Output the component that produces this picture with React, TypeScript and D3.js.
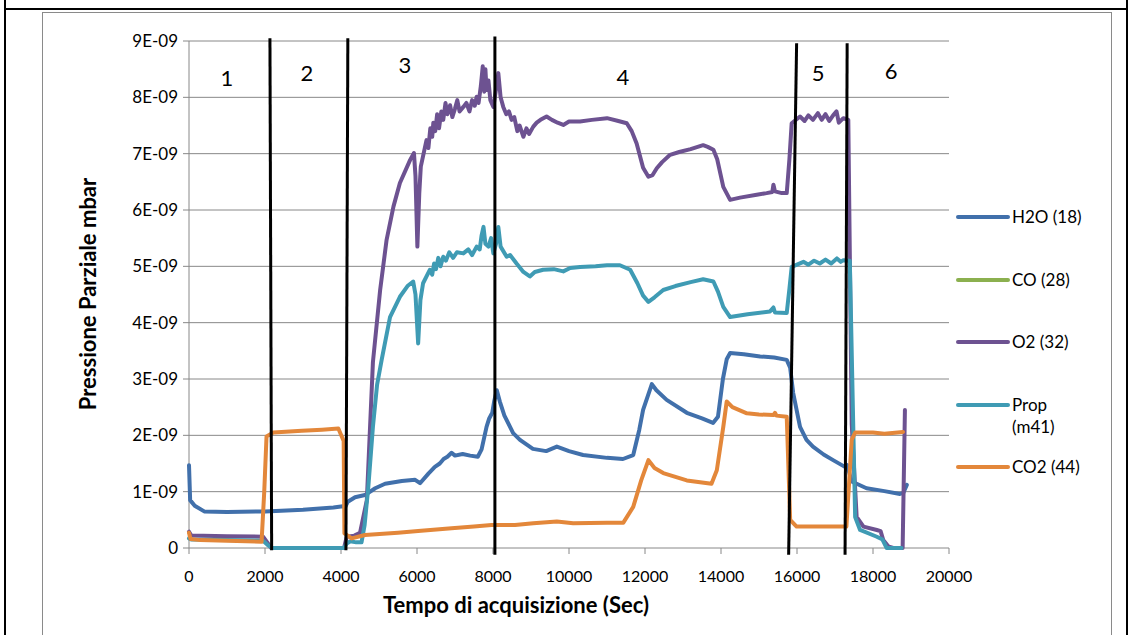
import React from "react";
import * as d3 from "d3";

// values in units of 1E-09 mbar, time in seconds
const h2o: [number, number][] = [
  [0, 1.47], [30, 0.85], [150, 0.75], [400, 0.65], [1000, 0.64], [2000, 0.65], [3000, 0.68], [3800, 0.72],
  [4050, 0.74], [4100, 0.72], [4180, 0.82], [4370, 0.9], [4630, 0.94], [4900, 1.06], [5160, 1.14], [5600, 1.19],
  [5950, 1.21], [6080, 1.15], [6300, 1.32], [6470, 1.44], [6600, 1.5], [6700, 1.58], [6800, 1.62], [6910, 1.69],
  [7000, 1.64], [7200, 1.67], [7400, 1.64], [7600, 1.62], [7700, 1.75], [7830, 2.15], [7900, 2.3], [7980, 2.4],
  [8030, 2.6], [8100, 2.8], [8180, 2.6], [8300, 2.35], [8530, 2.04], [8710, 1.92], [9050, 1.76], [9400, 1.72],
  [9680, 1.8], [10000, 1.72], [10370, 1.65], [11000, 1.6], [11420, 1.58], [11690, 1.65], [11850, 2.1], [11950, 2.45],
  [12180, 2.91], [12300, 2.8], [12570, 2.63], [13100, 2.4], [13500, 2.3], [13790, 2.22], [13920, 2.33], [14050, 3.0],
  [14150, 3.35], [14240, 3.46], [14600, 3.44], [15030, 3.4], [15400, 3.38], [15730, 3.34], [15820, 3.2], [15900, 2.75],
  [16080, 2.15], [16250, 1.92], [16420, 1.8], [16700, 1.66], [16950, 1.56], [17260, 1.44], [17320, 1.47], [17440, 1.18],
  [17830, 1.06], [18300, 1.01], [18710, 0.96], [18800, 0.98], [18890, 1.12],
];

// CO (28) is not visible anywhere in the plot
const co: [number, number][] = [];

const o2: [number, number][] = [
  [0, 0.29], [60, 0.22], [1000, 0.21], [1950, 0.2], [2060, 0.1], [2160, 0], [4080, 0], [4150, 0.2], [4350, 0.22],
  [4500, 0.27], [4680, 0.85], [4840, 3.3], [5030, 4.58], [5200, 5.47], [5380, 6.06], [5550, 6.48], [5820, 6.89],
  [5920, 7.01], [5960, 6.6], [6010, 5.35], [6060, 6.3], [6100, 6.77], [6250, 7.24], [6300, 7.1], [6350, 7.45],
  [6400, 7.3], [6430, 7.55], [6480, 7.4], [6530, 7.7], [6580, 7.45], [6640, 7.75], [6690, 7.6], [6750, 7.9],
  [6800, 7.7], [6870, 7.86], [6930, 7.65], [7000, 7.8], [7060, 7.95], [7120, 7.75], [7220, 7.83], [7300, 7.9],
  [7380, 7.75], [7450, 7.95], [7520, 7.85], [7570, 8.01], [7620, 7.9], [7680, 8.2], [7730, 8.55], [7770, 8.1],
  [7800, 8.5], [7830, 8.13], [7880, 8.3], [7930, 7.95], [8010, 7.83], [8070, 8.1], [8140, 8.43], [8200, 8.0],
  [8270, 7.83], [8350, 7.7], [8420, 7.75], [8490, 7.6], [8560, 7.65], [8640, 7.4], [8700, 7.5], [8800, 7.3],
  [8880, 7.45], [8950, 7.35], [9060, 7.48], [9150, 7.55], [9250, 7.6], [9410, 7.66], [9550, 7.6], [9700, 7.55],
  [9850, 7.51], [10000, 7.57], [10290, 7.57], [10600, 7.6], [11000, 7.63], [11300, 7.58], [11520, 7.54], [11650, 7.4],
  [11780, 7.18], [11950, 6.75], [12090, 6.59], [12200, 6.62], [12310, 6.74], [12450, 6.85], [12660, 6.98], [12900, 7.03],
  [13200, 7.08], [13530, 7.15], [13650, 7.12], [13800, 7.07], [13900, 6.9], [14060, 6.41], [14240, 6.18], [14500, 6.22],
  [14940, 6.27], [15200, 6.3], [15350, 6.32], [15380, 6.45], [15420, 6.33], [15600, 6.3], [15730, 6.3], [15800, 6.9],
  [15860, 7.54], [16080, 7.66], [16200, 7.58], [16300, 7.68], [16420, 7.6], [16550, 7.72], [16650, 7.6], [16750, 7.7],
  [16850, 7.58], [16950, 7.68], [17040, 7.75], [17100, 7.55], [17220, 7.63], [17350, 7.6], [17440, 2.2], [17570, 0.55],
  [17750, 0.38], [18100, 0.32], [18200, 0.3], [18270, 0.14], [18400, 0.03], [18530, 0], [18780, 0], [18840, 2.45],
];

const prop: [number, number][] = [
  [0, 0.17], [60, 0.15], [1000, 0.14], [1950, 0.13], [2080, 0.05], [2200, 0], [4080, 0], [4150, 0.08], [4250, 0.12],
  [4400, 0.1], [4540, 0.1], [4620, 0.4], [4720, 1.09], [4840, 2.15], [4950, 2.9], [5070, 3.34], [5290, 4.1],
  [5550, 4.46], [5750, 4.65], [5900, 4.73], [5960, 4.5], [6030, 3.63], [6090, 4.4], [6160, 4.7], [6340, 4.94],
  [6400, 4.85], [6450, 5.05], [6500, 4.95], [6560, 5.15], [6620, 5.0], [6690, 5.17], [6760, 5.1], [6850, 5.25],
  [6950, 5.15], [7050, 5.25], [7220, 5.23], [7350, 5.3], [7450, 5.2], [7570, 5.35], [7650, 5.3], [7700, 5.55],
  [7750, 5.7], [7800, 5.4], [7880, 5.35], [7950, 5.5], [8010, 5.23], [8080, 5.4], [8140, 5.7], [8200, 5.35],
  [8360, 5.17], [8450, 5.2], [8620, 5.05], [8800, 4.9], [8970, 4.82], [9100, 4.9], [9320, 4.94], [9600, 4.95],
  [9850, 4.91], [10030, 4.97], [10290, 4.99], [10700, 5.0], [11000, 5.02], [11340, 5.02], [11610, 4.94], [11800, 4.7],
  [11950, 4.48], [12090, 4.37], [12250, 4.45], [12480, 4.58], [12800, 4.65], [13200, 4.72], [13530, 4.77], [13800, 4.73],
  [13920, 4.55], [14060, 4.28], [14240, 4.1], [14700, 4.15], [15290, 4.2], [15380, 4.27], [15420, 4.18], [15730, 4.17],
  [15800, 4.6], [15860, 4.99], [16170, 5.08], [16300, 5.03], [16450, 5.1], [16600, 5.05], [16750, 5.12], [16900, 5.05],
  [17050, 5.14], [17150, 5.08], [17220, 5.11], [17390, 5.1], [17530, 0.55], [17660, 0.32], [18100, 0.2], [18250, 0.15],
  [18360, 0], [18750, 0],
];

const co2: [number, number][] = [
  [0, 0.27], [40, 0.16], [300, 0.14], [1000, 0.13], [1910, 0.11], [1980, 1.0], [2040, 1.98], [2220, 2.05],
  [2970, 2.08], [3500, 2.1], [3930, 2.12], [4020, 1.98], [4070, 1.9], [4090, 0.26], [4280, 0.17], [4630, 0.23],
  [5500, 0.27], [6030, 0.3], [6910, 0.35], [7500, 0.38], [7960, 0.41], [8580, 0.41], [9060, 0.44], [9680, 0.47],
  [10110, 0.44], [11000, 0.45], [11430, 0.45], [11690, 0.73], [11900, 1.2], [12090, 1.56], [12250, 1.42], [12480, 1.33],
  [13100, 1.2], [13750, 1.14], [13890, 1.38], [14060, 2.15], [14150, 2.6], [14300, 2.5], [14680, 2.39], [15000, 2.37],
  [15380, 2.36], [15420, 2.4], [15460, 2.35], [15730, 2.33], [15820, 0.5], [15990, 0.38], [17300, 0.38], [17440, 1.92],
  [17530, 2.05], [18000, 2.05], [18300, 2.03], [18790, 2.06],
];

const seriesNames = ["H2O (18)", "CO (28)", "O2 (32)", "Prop (m41)", "CO2 (44)"];
const seriesData = [h2o, co, o2, prop, co2];
const seriesColors = ["#4170ab", "#8bb04f", "#6d5291", "#3f9bb4", "#e3873a"];

const xTicks = [0, 2000, 4000, 6000, 8000, 10000, 12000, 14000, 16000, 18000, 20000];
const yTicks = [0, 1, 2, 3, 4, 5, 6, 7, 8, 9];

// hand-drawn phase separators: [time at top, value at top, time at bottom, value at bottom]
const phaseLines: [number, number, number, number][] = [
  [2130, 9.05, 2175, -0.04],
  [4180, 9.05, 4130, -0.04],
  [8050, 9.08, 8050, -0.12],
  [15990, 8.96, 15780, -0.12],
  [17320, 8.96, 17265, -0.12],
];
const phaseLabels = ["1", "2", "3", "4", "5", "6"];
const phaseLabelTime = [1000, 3105, 5684, 11421, 16553, 18474];
const phaseLabelValue = [8.34, 8.43, 8.56, 8.36, 8.43, 8.47];

const W = 1131;
const H = 635;
const font = "Lato, 'Open Sans', sans-serif";

export default function App() {
  const x = d3.scaleLinear().domain([0, 20000]).range([189, 949]);
  const y = d3.scaleLinear().domain([0, 9]).range([548, 41]);
  const line = d3
    .line<[number, number]>()
    .x((d) => x(d[0]))
    .y((d) => y(d[1]));

  const legendY = [217, 280, 342, 405, 467];

  return (
    <div style={{ position: "absolute", left: 0, top: 0 }}>
      <svg width={W} height={H} style={{ display: "block", background: "#fff" }}>
        {/* table borders */}
        <line x1={5} y1={9} x2={1127} y2={9} stroke="#000" strokeWidth={2} />
        <line x1={5} y1={0} x2={5} y2={H} stroke="#000" strokeWidth={2} />
        <line x1={1127} y1={0} x2={1127} y2={H} stroke="#000" strokeWidth={2} />
        {/* chart frame */}
        <rect x={42.5} y={12.5} width={1069} height={640} fill="none" stroke="#8a8a8a" strokeWidth={1} />

        {/* gridlines */}
        {yTicks.map((t) => (
          <line key={"g" + t} x1={183} x2={949} y1={y(t)} y2={y(t)} stroke="#888" strokeWidth={1} />
        ))}
        <line x1={x(0)} x2={x(0)} y1={y(9)} y2={y(0)} stroke="#888" strokeWidth={1} />
        {xTicks.map((t) => (
          <line key={"xt" + t} x1={x(t)} x2={x(t)} y1={y(0)} y2={y(0) + 6} stroke="#888" strokeWidth={1} />
        ))}

        {/* tick labels */}
        {yTicks.map((t) => (
          <text key={"yl" + t} x={178} y={y(t)} dy="0.35em" textAnchor="end" fontFamily={font} fontSize={17} fill="#000">
            {t === 0 ? "0" : `${t}E-09`}
          </text>
        ))}
        {xTicks.map((t) => (
          <text key={"xl" + t} x={x(t)} y={576} dy="0.35em" textAnchor="middle" fontFamily={font} fontSize={16} fill="#000">
            {t}
          </text>
        ))}

        {/* axis titles */}
        <text x={516} y={605} dy="0.35em" textAnchor="middle" fontFamily={font} fontSize={22} fontWeight="bold">
          Tempo di acquisizione (Sec)
        </text>
        <text
          transform={`translate(88,294) rotate(-90)`}
          dy="0.35em"
          textAnchor="middle"
          fontFamily={font}
          fontSize={22}
          fontWeight="bold"
        >
          Pressione Parziale mbar
        </text>

        {/* series */}
        {seriesData.map((s, i) =>
          s.length ? (
            <path
              key={seriesNames[i]}
              d={line(s) || ""}
              fill="none"
              stroke={seriesColors[i]}
              strokeWidth={4}
              strokeLinejoin="round"
              strokeLinecap="round"
            />
          ) : null
        )}

        {/* phase separators */}
        {phaseLines.map((p, i) => (
          <line key={"p" + i} x1={x(p[0])} y1={y(p[1])} x2={x(p[2])} y2={y(p[3])} stroke="#000" strokeWidth={3} />
        ))}
        {phaseLabels.map((l, i) => (
          <text
            key={"pl" + l}
            x={x(phaseLabelTime[i])}
            y={y(phaseLabelValue[i])}
            dy="0.35em"
            textAnchor="middle"
            fontFamily={font}
            fontSize={22}
          >
            {l}
          </text>
        ))}

        {/* legend */}
        {seriesNames.map((n, i) => (
          <g key={"lg" + n}>
            <line x1={958} x2={1008} y1={legendY[i]} y2={legendY[i]} stroke={seriesColors[i]} strokeWidth={4} strokeLinecap="round" />
            {n === "Prop (m41)" ? (
              <text x={1012} y={legendY[i]} dy="0.35em" fontFamily={font} fontSize={17}>
                <tspan x={1012}>Prop</tspan>
                <tspan x={1012} dy={22}>(m41)</tspan>
              </text>
            ) : (
              <text x={1012} y={legendY[i]} dy="0.35em" fontFamily={font} fontSize={17}>
                {n}
              </text>
            )}
          </g>
        ))}
      </svg>
    </div>
  );
}
